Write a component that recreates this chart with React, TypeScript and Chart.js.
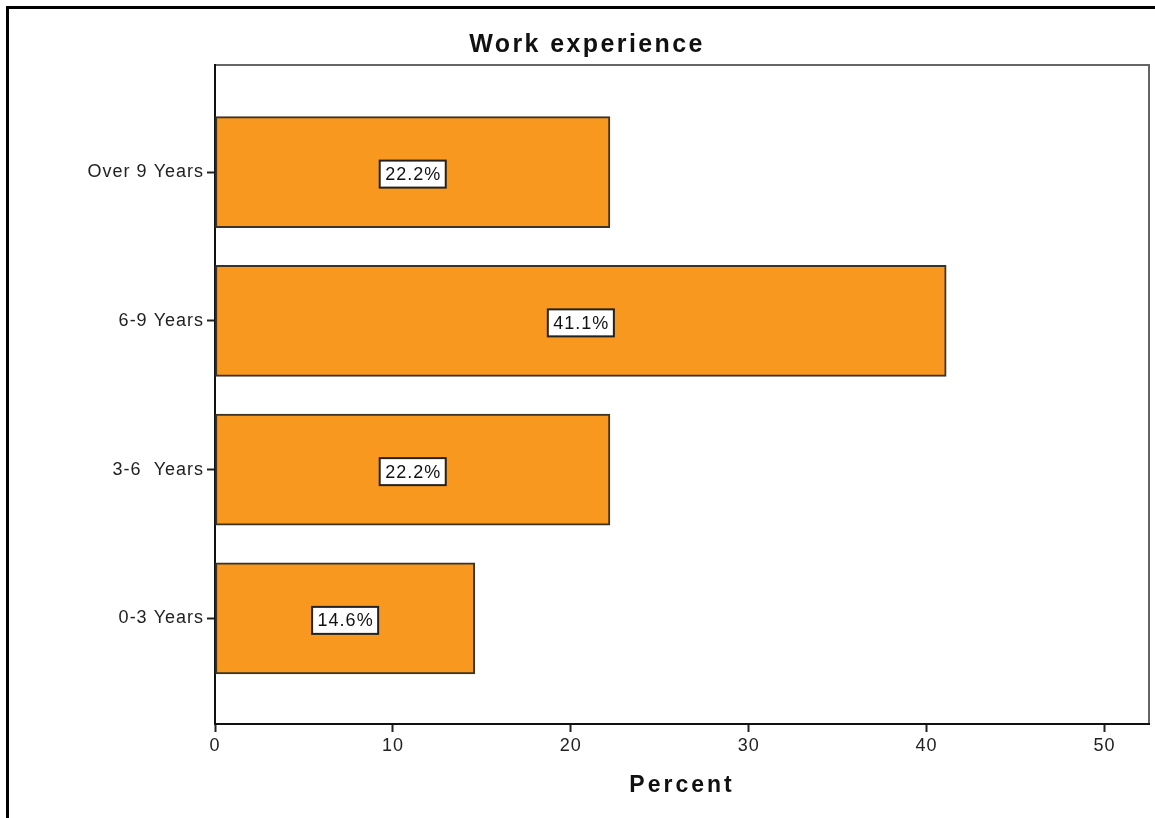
import React, { useEffect, useRef } from 'react';
import { Chart, registerables } from 'chart.js';

Chart.register(...registerables);

const categories = ['0-3 Years', '3-6  Years', '6-9 Years', 'Over 9 Years'];
const percents = [14.6, 22.2, 41.1, 22.2];
const xTickValues = [0, 10, 20, 30, 40, 50];
const chartTitle = 'Work experience';
const xAxisTitle = 'Percent';

const FONT = '"Liberation Sans", Arial, sans-serif';

const decor = {
  id: 'decor',
  beforeDraw(chart: any) {
    const ctx = chart.ctx;
    ctx.save();
    ctx.fillStyle = '#ffffff';
    ctx.fillRect(0, 0, chart.width, chart.height);
    ctx.strokeStyle = '#000000';
    ctx.lineWidth = 3;
    ctx.strokeRect(7.5, 7.5, chart.width + 20, chart.height + 20);
    const a = chart.chartArea;
    ctx.strokeStyle = '#666666';
    ctx.lineWidth = 2;
    ctx.strokeRect(a.left, a.top, a.right - a.left, a.bottom - a.top);
    ctx.restore();
    ctx.letterSpacing = '1px';
  },
  afterDatasetsDraw(chart: any) {
    const ctx = chart.ctx;
    const meta = chart.getDatasetMeta(0);
    ctx.save();
    ctx.letterSpacing = '1px';
    ctx.font = `18px ${FONT}`;
    meta.data.forEach((el: any, i: number) => {
      const text = `${percents[i].toFixed(1)}%`;
      const cx = (el.x + el.base) / 2;
      const cy = el.y + 2;
      const w = ctx.measureText(text).width + 10;
      const h = 27;
      ctx.fillStyle = '#ffffff';
      ctx.fillRect(cx - w / 2, cy - h / 2, w, h);
      ctx.strokeStyle = '#222222';
      ctx.lineWidth = 2;
      ctx.strokeRect(cx - w / 2, cy - h / 2, w, h);
      ctx.fillStyle = '#111111';
      ctx.textAlign = 'center';
      ctx.textBaseline = 'middle';
      ctx.fillText(text, cx + 0.5, cy + 1);
    });
    ctx.restore();
  },
  afterDraw(chart: any) {
    const ctx = chart.ctx;
    const a = chart.chartArea;
    ctx.save();
    ctx.fillStyle = '#111111';
    ctx.textAlign = 'center';
    ctx.textBaseline = 'middle';
    ctx.letterSpacing = '2.4px';
    ctx.font = `bold 25px ${FONT}`;
    ctx.fillText(chartTitle, 587, 45);
    ctx.letterSpacing = '3px';
    ctx.font = `bold 23px ${FONT}`;
    ctx.fillText(xAxisTitle, (a.left + a.right) / 2, 786);
    ctx.restore();
    ctx.letterSpacing = '0px';
  },
};

export default function App() {
  const ref = useRef<HTMLCanvasElement | null>(null);

  useEffect(() => {
    if (!ref.current) return;
    const chart = new Chart(ref.current, {
      type: 'bar',
      data: {
        datasets: [
          {
            data: percents.map((v, i) => ({ x: v, y: i + 1 })),
            backgroundColor: '#F8981F',
            borderColor: '#3b3326',
            borderWidth: 2,
            borderSkipped: false,
            barThickness: 111,
          } as any,
        ],
      },
      options: {
        indexAxis: 'y',
        responsive: false,
        animation: false,
        layout: { padding: { top: 65, right: 6, bottom: 0, left: 0 } },
        plugins: {
          legend: { display: false },
          tooltip: { enabled: false },
          title: { display: false },
        },
        scales: {
          x: {
            type: 'linear',
            min: 0,
            max: 52.5,
            offset: false,
            afterBuildTicks: (s: any) => {
              s.ticks = xTickValues.map((v) => ({ value: v }));
            },
            afterFit: (s: any) => {
              s.height = 94;
            },
            grid: {
              offset: false,
              drawOnChartArea: false,
              drawTicks: true,
              tickLength: 8,
              tickColor: '#222222',
              tickWidth: 2,
            },
            border: { display: true, color: '#111111', width: 2 },
            ticks: {
              color: '#222222',
              padding: 3,
              font: { family: FONT, size: 18 },
              maxRotation: 0,
            },
          },
          y: {
            type: 'linear',
            min: 0.29,
            max: 4.72,
            offset: false,
            afterBuildTicks: (s: any) => {
              s.ticks = categories.map((_, i) => ({ value: i + 1 }));
            },
            afterFit: (s: any) => {
              s.width = 215;
            },
            grid: {
              offset: false,
              drawOnChartArea: false,
              drawTicks: true,
              tickLength: 8,
              tickColor: '#222222',
              tickWidth: 2,
            },
            border: { display: true, color: '#111111', width: 2 },
            ticks: {
              color: '#222222',
              padding: 3,
              font: { family: FONT, size: 18 },
              callback: (v: any) => categories[Math.round(v) - 1] ?? '',
            },
          },
        },
      } as any,
      plugins: [decor],
    });
    return () => chart.destroy();
  }, []);

  return (
    <div style={{ position: 'absolute', left: 0, top: 0, width: 1155, height: 818, background: '#fff' }}>
      <canvas ref={ref} width={1155} height={818} style={{ display: 'block' }} />
    </div>
  );
}
